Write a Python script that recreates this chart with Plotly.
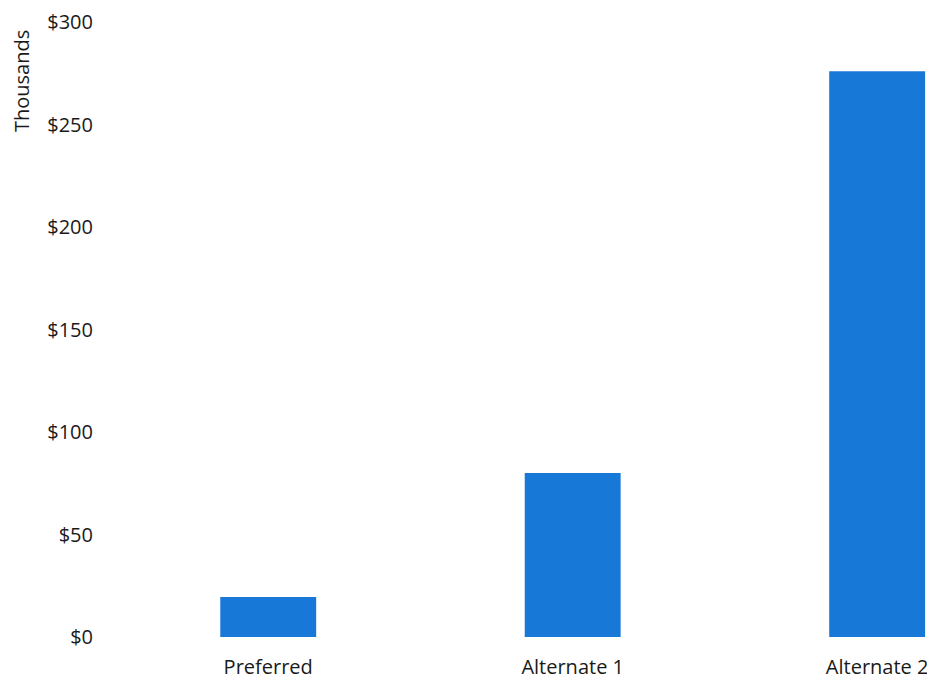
import plotly.graph_objects as go

categories = ["Preferred", "Alternate 1", "Alternate 2"]
values = [19.5, 80, 276]
tick_vals = [0, 50, 100, 150, 200, 250, 300]
tick_text = ["$0", "$50", "$100", "$150", "$200", "$250", "$300"]

fig = go.Figure(go.Bar(
    x=categories, y=values, width=0.315,
    marker=dict(color="#1878D8", line=dict(width=0)),
))

fig.update_layout(
    width=927, height=675,
    margin=dict(l=108, r=0, t=14, b=46),
    paper_bgcolor="white", plot_bgcolor="white",
    font=dict(family="Open Sans, Liberation Sans, sans-serif", size=20, color="#1a1a1a"),
    showlegend=False,
    xaxis=dict(range=[-0.5, 2.19], showline=False, showgrid=False, ticks="",
               ticklabelstandoff=16, tickfont=dict(size=20)),
    yaxis=dict(range=[0, 300], tickvals=tick_vals, ticktext=tick_text,
               showgrid=False, showline=False, zeroline=False, ticks="",
               ticklabelstandoff=22, tickfont=dict(size=20)),
    annotations=[dict(text="Thousands", textangle=-90, xref="paper", yref="paper",
                      x=0, y=1, xanchor="center", yanchor="top", xshift=-95, yshift=-6,
                      showarrow=False, font=dict(size=20))],
)

fig.write_html("out.html")
